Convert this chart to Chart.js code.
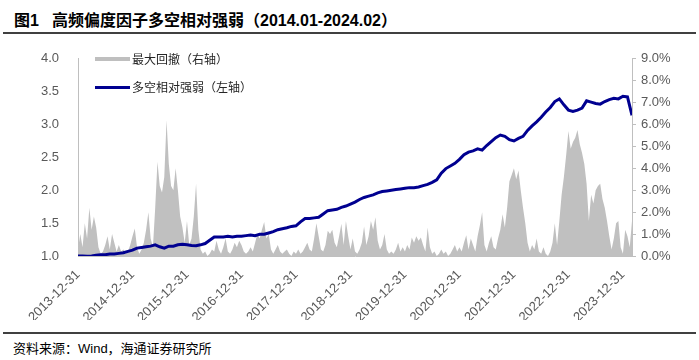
<!DOCTYPE html>
<html>
<head>
<meta charset="utf-8">
<script src="https://cdn.jsdelivr.net/npm/chart.js@4.4.1/dist/chart.umd.min.js"></script>
<style>
  body { margin: 0; width: 699px; height: 360px; background: #fff; position: relative; overflow: hidden; }
  .rule { position: absolute; left: 3px; right: 3px; height: 2px; background: #404040; }
  #title { position: absolute; top: 7px; left: 14px; font: bold 16px "Liberation Sans", "Noto Sans CJK SC", sans-serif; color: #000; white-space: nowrap; }
  #title .main { position: absolute; left: 38px; top: 0; }
  #source { position: absolute; top: 338px; left: 13px; font: 13px "Liberation Sans", "Noto Sans CJK SC", sans-serif; color: #000; white-space: nowrap; }
  .leg { position: absolute; left: 95px; height: 16px; font: 12px "Noto Sans CJK SC", sans-serif; color: #262626; white-space: nowrap; }
  .leg i { position: absolute; left: 0; width: 35px; }
  .leg span { position: absolute; left: 37px; top: 0; line-height: 16px; }
  canvas { position: absolute; left: 0; top: 40px; }
</style>
</head>
<body>
<div id="title"><span>图1</span><span class="main">高频偏度因子多空相对强弱（2014.01-2024.02）</span></div>
<div class="rule" style="top:32px"></div>
<canvas id="chart" width="699" height="280"></canvas>
<div class="leg" style="top:51px"><i style="top:6px;height:4px;background:#bfbfbf"></i><span>最大回撤（右轴）</span></div>
<div class="leg" style="top:79px"><i style="top:7px;height:3px;background:#000090"></i><span>多空相对强弱（左轴）</span></div>
<div class="rule" style="top:332px"></div>
<div id="source">资料来源：Wind，海通证券研究所</div>
<script>
// year-end tick labels, one per 12 months starting 2013-12
const yearTicks = ['2013-12-31', '2014-12-31', '2015-12-31', '2016-12-31', '2017-12-31',
  '2018-12-31', '2019-12-31', '2020-12-31', '2021-12-31', '2022-12-31', '2023-12-31'];

// long-short relative strength, monthly, 2013-12 .. 2024-02 (left axis)
const strengthValues = [
  1.00, 1.00, 0.995, 1.00, 1.01, 1.02, 1.02, 1.03, 1.03, 1.04,
  1.05, 1.07, 1.09, 1.12, 1.13, 1.14, 1.15, 1.17, 1.14, 1.12,
  1.15, 1.15, 1.17, 1.18, 1.17, 1.16, 1.155, 1.17, 1.19, 1.24,
  1.29, 1.29, 1.29, 1.30, 1.29, 1.30, 1.30, 1.31, 1.32, 1.31,
  1.33, 1.33, 1.35, 1.37, 1.40, 1.415, 1.43, 1.45, 1.46, 1.52,
  1.57, 1.57, 1.58, 1.59, 1.64, 1.69, 1.70, 1.71, 1.74, 1.76,
  1.79, 1.82, 1.86, 1.89, 1.91, 1.93, 1.96, 1.98, 1.99, 2.00,
  2.01, 2.02, 2.03, 2.04, 2.04, 2.05, 2.07, 2.09, 2.12, 2.16,
  2.26, 2.33, 2.37, 2.41, 2.47, 2.54, 2.58, 2.60, 2.63, 2.61,
  2.68, 2.74, 2.80, 2.84, 2.82, 2.77, 2.75, 2.79, 2.82, 2.91,
  2.98, 3.04, 3.11, 3.19, 3.26, 3.35, 3.39, 3.30, 3.22, 3.20,
  3.22, 3.25, 3.36, 3.34, 3.32, 3.31, 3.35, 3.38, 3.40, 3.39,
  3.43, 3.42, 3.14
];

// max drawdown in %, half-monthly over the same span (right axis)
const drawdownValues = [
  0.3, 1.0, 0.4, 1.5, 0.8, 2.2, 1.2, 1.8, 1.3, 0.4,
  0.1, 0.2, 0.5, 0.9, 0.3, 1.0, 0.6, 0.2, 0.5, 0.2,
  0.3, 0.1, 0.2, 0.5, 0.9, 1.25, 0.4, 0.1, 0.3, 0.6,
  1.2, 2.0, 0.8, 0.4, 2.2, 4.3, 3.2, 2.9, 3.6, 6.2,
  4.2, 3.2, 3.0, 4.0, 3.0, 1.8, 1.3, 0.6, 1.6, 0.5,
  0.8, 1.8, 3.3, 1.2, 0.3, 0.1, 0.2, 0.0, 0.1, 0.3,
  0.2, 0.7, 0.3, 0.1, 0.4, 0.8, 0.2, 0.1, 0.3, 0.6,
  0.4, 0.7, 0.5, 0.2, 0.1, 0.2, 0.4, 0.2, 0.6, 1.0,
  0.8, 1.2, 1.55, 0.8, 1.0, 0.3, 0.1, 0.3, 0.5, 0.2,
  0.1, 0.2, 0.3, 0.1, 0.0, 0.2, 0.1, 0.3, 0.1, 0.2,
  0.4, 0.6, 0.3, 0.2, 0.8, 1.5, 0.9, 0.3, 0.2, 0.5,
  1.15, 1.0, 1.2, 0.6, 0.4, 0.9, 1.47, 0.5, 1.6, 0.9,
  0.3, 0.8, 0.2, 0.1, 0.3, 0.6, 1.35, 0.5, 0.9, 1.6,
  1.2, 1.77, 0.7, 0.3, 0.5, 1.0, 0.3, 0.1, 0.2, 0.1,
  0.3, 0.6, 0.2, 0.4, 0.2, 0.5, 0.3, 0.85, 0.6, 0.9,
  0.7, 0.85, 0.5, 0.2, 1.3, 0.4, 0.1, 0.2, 0.0, 0.1,
  0.3, 0.1, 0.2, 0.0, 0.1, 0.3, 0.5, 0.2, 0.4, 0.2,
  0.6, 0.95, 0.3, 0.8, 0.5, 0.2, 0.9, 1.4, 2.0, 0.5,
  0.2, 0.6, 0.9, 0.4, 0.3, 0.8, 1.2, 1.9, 1.3, 2.2,
  3.4, 3.7, 4.0, 3.5, 3.9, 3.0, 2.2, 1.5, 0.6, 0.2,
  0.5, 0.3, 0.8, 0.2, 0.1, 0.4, 0.1, 0.0, 0.2, 0.6,
  1.5, 0.5, 1.6, 2.8, 3.6, 4.6, 5.7, 4.9, 5.2, 5.4,
  5.75, 5.1, 4.7, 4.2, 3.3, 1.6, 2.8, 2.4, 3.0, 3.2,
  3.3, 2.6, 2.2, 1.6, 0.9, 0.3, 0.8, 1.5, 1.6, 0.4,
  0.1, 1.2, 0.9, 0.4, 1.6
];

const tickFont = { family: '"Liberation Sans", Arial, sans-serif', size: 13 };
const tickColor = '#595959';
const axisColor = '#bfbfbf';

const strengthPoints = strengthValues.map((v, i) => ({ x: i, y: v }));
const drawdownPoints = drawdownValues.map((v, i) => ({ x: i / 2, y: v }));

new Chart(document.getElementById('chart'), {
  type: 'line',
  data: {
    datasets: [
      {
        label: '多空相对强弱（左轴）',
        data: strengthPoints,
        yAxisID: 'y',
        borderColor: '#000090',
        borderWidth: 3,
        pointRadius: 0,
        tension: 0,
        fill: false,
        order: 1,
      },
      {
        label: '最大回撤（右轴）',
        data: drawdownPoints,
        yAxisID: 'y1',
        borderWidth: 0,
        borderColor: 'rgba(0,0,0,0)',
        backgroundColor: '#c0c0c0',
        pointRadius: 0,
        tension: 0,
        fill: { value: 0 },
        order: 2,
      },
    ],
  },
  options: {
    responsive: false,
    animation: false,
    devicePixelRatio: 1,
    layout: { padding: { top: 16, left: 0, right: 0, bottom: 0 } },
    plugins: { legend: { display: false }, tooltip: { enabled: false } },
    scales: {
      x: {
        type: 'linear',
        min: 0,
        max: 122,
        grid: { display: false },
        border: { display: true, color: axisColor },
        afterBuildTicks: (axis) => {
          axis.ticks = yearTicks.map((_, i) => ({ value: i * 12 }));
        },
        afterFit: (axis) => { axis.height = 64; },
        ticks: {
          autoSkip: false,
          minRotation: 45,
          maxRotation: 45,
          color: tickColor,
          font: tickFont,
          callback: (v) => yearTicks[Math.round(v / 12)],
        },
      },
      y: {
        position: 'left',
        min: 1,
        max: 4,
        grid: { display: false },
        border: { display: true, color: axisColor },
        afterFit: (axis) => { axis.width = 78; },
        ticks: {
          stepSize: 0.5,
          padding: 11,
          color: tickColor,
          font: tickFont,
          callback: (v) => v.toFixed(1),
        },
      },
      y1: {
        position: 'right',
        min: 0,
        max: 9,
        grid: { display: true, drawOnChartArea: false, tickLength: 4, color: axisColor },
        border: { display: true, color: axisColor },
        afterFit: (axis) => { axis.width = 67; },
        ticks: {
          stepSize: 1,
          padding: 5,
          color: tickColor,
          font: tickFont,
          callback: (v) => v.toFixed(1) + '%',
        },
      },
    },
  },
});
</script>
</body>
</html>
